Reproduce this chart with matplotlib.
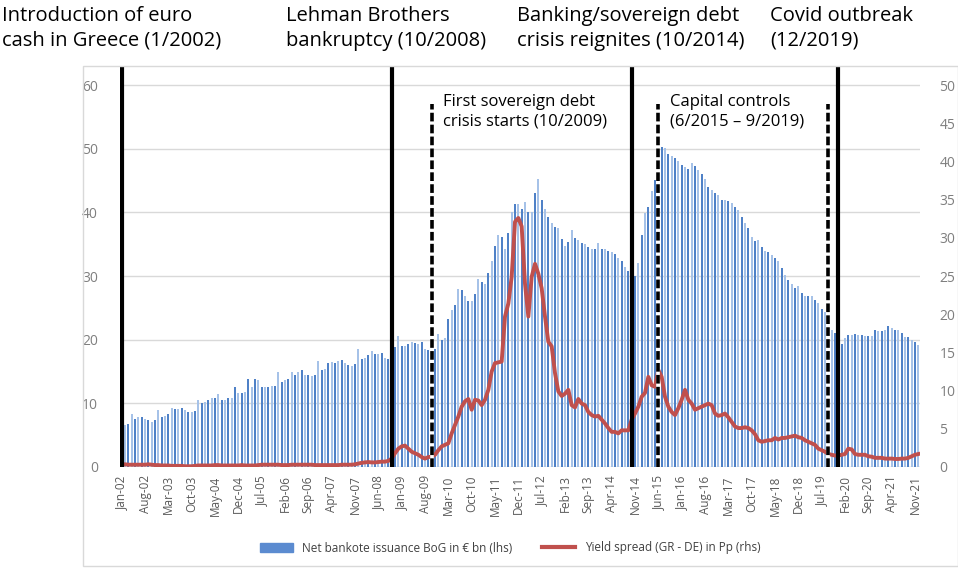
import numpy as np
import matplotlib.pyplot as plt
from matplotlib.lines import Line2D
from matplotlib.patches import Patch, Rectangle

plt.rcParams['font.family'] = ['Open Sans', 'DejaVu Sans']

# monthly series, Jan-2002 .. Dec-2021
month_names = ["Jan", "Feb", "Mar", "Apr", "May", "Jun",
               "Jul", "Aug", "Sep", "Oct", "Nov", "Dec"]
start_year = 2002
n_months = 240

# net banknote issuance of the Bank of Greece, EUR bn (left axis)
issuance = [
    6.1, 6.6, 6.8, 8.3, 7.6, 7.9, 7.9, 7.5, 7.4, 7.1, 7.4, 9.0,
    7.9, 8.0, 8.3, 9.3, 9.1, 9.1, 9.2, 9.0, 8.7, 8.7, 8.8, 10.6,
    10.0, 10.2, 10.5, 10.9, 10.9, 11.4, 10.5, 10.5, 10.8, 10.8, 12.5, 11.7,
    11.7, 11.8, 13.8, 12.6, 13.8, 13.6, 12.6, 12.6, 12.6, 12.7, 12.7, 14.9,
    13.4, 13.7, 13.9, 14.9, 14.5, 14.9, 15.2, 14.4, 14.5, 14.3, 14.5, 16.7,
    15.3, 15.4, 16.4, 16.5, 16.3, 16.7, 16.8, 16.3, 16.1, 15.8, 16.2, 18.6,
    16.9, 17.1, 17.6, 18.2, 17.8, 17.8, 17.9, 17.2, 16.9, 17.5, 18.9, 20.6,
    19.0, 19.0, 19.3, 19.6, 19.5, 19.4, 19.6, 18.6, 18.4, 18.2, 18.5, 20.9,
    19.9, 20.2, 23.2, 24.6, 25.4, 27.9, 27.8, 26.8, 26.1, 26.1, 27.2, 29.5,
    29.0, 28.8, 30.5, 32.3, 34.7, 36.5, 36.2, 34.3, 36.8, 40.1, 41.3, 41.3,
    40.5, 41.6, 40.1, 40.1, 43.1, 45.2, 41.9, 40.6, 39.3, 38.4, 37.7, 37.6,
    35.8, 34.7, 35.4, 37.2, 35.9, 35.7, 35.2, 35.0, 34.5, 34.3, 34.3, 35.2,
    34.3, 34.2, 34.0, 33.8, 33.5, 32.9, 32.3, 31.5, 30.8, 30.5, 30.0, 32.0,
    36.5, 39.9, 40.9, 43.4, 45.1, 47.4, 50.2, 50.1, 49.2, 48.8, 48.5, 48.1,
    47.4, 47.2, 46.8, 47.7, 47.3, 46.6, 46.1, 45.2, 44.0, 43.5, 43.0, 42.8,
    42.0, 42.0, 41.8, 41.5, 40.9, 40.3, 39.3, 38.4, 37.6, 36.2, 35.5, 35.7,
    34.6, 34.0, 33.8, 33.3, 32.8, 32.3, 31.2, 30.2, 29.4, 28.7, 28.2, 28.4,
    27.3, 26.8, 26.8, 26.8, 26.3, 25.8, 24.9, 24.4, 22.5, 21.5, 21.0, 20.0,
    19.4, 20.2, 20.7, 20.7, 20.9, 20.8, 20.7, 20.6, 20.6, 20.6, 21.5, 21.4,
    21.3, 21.6, 22.1, 21.9, 21.6, 21.5, 21.0, 20.5, 20.4, 19.9, 19.7, 19.2,
]

# 10y yield spread Greece - Germany, percentage points (right axis)
spread = [
    0.35, 0.35, 0.3, 0.3, 0.3, 0.3, 0.3, 0.3, 0.35, 0.3, 0.25, 0.25,
    0.2, 0.2, 0.2, 0.15, 0.15, 0.15, 0.15, 0.1, 0.1, 0.1, 0.15, 0.2,
    0.2, 0.2, 0.2, 0.2, 0.25, 0.25, 0.2, 0.2, 0.2, 0.2, 0.2, 0.2,
    0.25, 0.2, 0.2, 0.2, 0.2, 0.25, 0.3, 0.3, 0.3, 0.3, 0.3, 0.3,
    0.25, 0.25, 0.25, 0.3, 0.3, 0.3, 0.3, 0.3, 0.3, 0.3, 0.25, 0.25,
    0.25, 0.25, 0.25, 0.25, 0.25, 0.25, 0.3, 0.3, 0.3, 0.3, 0.35, 0.45,
    0.55, 0.6, 0.65, 0.6, 0.6, 0.65, 0.7, 0.7, 0.8, 1.1, 1.8, 2.4,
    2.7, 2.8, 2.4, 2.0, 1.8, 1.6, 1.3, 1.1, 1.3, 1.35, 1.6, 2.2,
    2.7, 2.9, 3.1, 4.4, 5.5, 6.6, 7.9, 8.6, 8.9, 7.5, 8.8, 8.7,
    8.1, 8.8, 10.1, 12.5, 13.6, 13.7, 13.8, 19.7, 21.4, 24.9, 32.1, 32.6,
    31.5, 24.0, 19.7, 24.9, 26.6, 25.3, 23.4, 19.7, 16.4, 15.8, 12.3, 9.9,
    9.3, 9.6, 10.1, 8.1, 7.8, 8.9, 8.3, 8.1, 7.2, 6.8, 6.6, 6.7,
    6.2, 5.7, 5.1, 4.6, 4.6, 4.4, 4.8, 4.8, 4.8, 6.2, 7.0, 7.9,
    9.2, 9.7, 11.8, 10.7, 10.5, 12.7, 11.8, 9.2, 7.9, 7.2, 6.8, 7.7,
    8.8, 10.1, 8.8, 8.3, 7.5, 7.7, 7.9, 8.1, 8.3, 8.1, 7.0, 6.7,
    6.8, 7.0, 6.5, 5.9, 5.3, 5.1, 5.1, 5.2, 5.1, 4.8, 4.3, 3.5,
    3.3, 3.4, 3.5, 3.5, 3.8, 3.6, 3.8, 3.8, 3.9, 4.0, 4.1, 3.9,
    3.8, 3.5, 3.3, 3.1, 2.9, 2.4, 2.2, 2.0, 1.7, 1.6, 1.5, 1.5,
    1.6, 1.7, 2.4, 2.3, 1.7, 1.6, 1.6, 1.6, 1.4, 1.35, 1.2, 1.2,
    1.2, 1.1, 1.1, 1.1, 1.05, 1.05, 1.1, 1.1, 1.2, 1.4, 1.6, 1.7,
]

# events as month index since Jan-2002
solid_events = [0, 81, 153, 215]
dashed_events = [93, 161, 212]

top_notes = [
    (2, "Introduction of euro\ncash in Greece (1/2002)"),
    (286, "Lehman Brothers\nbankruptcy (10/2008)"),
    (517, "Banking/sovereign debt\ncrisis reignites (10/2014)"),
    (770, "Covid outbreak\n(12/2019)"),
]
inner_notes = [
    (93, "First sovereign debt\ncrisis starts (10/2009)"),
    (161, "Capital controls\n(6/2015 \u2013 9/2019)"),
]

W, H = 958, 569
fig = plt.figure(figsize=(W / 100, H / 100), dpi=100)

# light frame around the chart area
fig.add_artist(Rectangle((83 / W, 1 - 566 / H), (W - 83) / W, 500 / H,
                         transform=fig.transFigure, fill=False,
                         edgecolor='#d9d9d9', lw=1))

ax = fig.add_axes([120 / W, 1 - 467 / H, 800 / W, (467 - 66) / H])
x = np.arange(n_months)
# thin bars render in two tones, alternate them
bar_colors = ['#4f81c7' if i % 2 == 0 else '#a6c2e8' for i in x]
ax.bar(x, issuance, width=0.6, color=bar_colors, zorder=2)
ax.set_xlim(-0.5, n_months - 0.5)
ax.set_ylim(0, 63)
ax.set_yticks(range(0, 61, 10))
ax.grid(axis='y', color='#d9d9d9', lw=1)
ax.set_axisbelow(True)
for s in ax.spines.values():
    s.set_visible(False)
ax.axhline(0, color='#d0d0d0', lw=1, zorder=1)
ax.tick_params(axis='y', length=0, pad=16, labelcolor='#7f7f7f', labelsize=10)

tick_idx = list(range(0, n_months, 7))
tick_lab = [f"{month_names[i % 12]}-{(start_year + i // 12) % 100:02d}" for i in tick_idx]
ax.set_xticks(tick_idx)
ax.set_xticklabels(tick_lab, rotation=90, fontsize=8.5, color='#595959')
ax.tick_params(axis='x', length=0, pad=6)

ax2 = ax.twinx()
ax2.plot(x, spread, color='#c0504d', lw=2.8, zorder=3)
ax2.set_ylim(0, 63 / 1.2)
ax2.set_yticks(range(0, 51, 5))
for s in ax2.spines.values():
    s.set_visible(False)
ax2.tick_params(axis='y', length=0, pad=14, labelcolor='#7f7f7f', labelsize=10)

for e in solid_events:
    ax2.axvline(e, color='black', lw=3, zorder=5)
for e in dashed_events:
    ax2.vlines(e, 0, 57 / 1.2, color='white', lw=2.6, zorder=5)
    ax2.vlines(e, 0, 57 / 1.2, color='black', lw=2.6, zorder=6,
               linestyles=(0, (2.4, 0.9)))

for px, txt in top_notes:
    fig.text(px / W, 1 - 6 / H, txt, ha='left', va='top', fontsize=14.5,
             linespacing=1.32, color='black')
for e, txt in inner_notes:
    ax2.text(e + 3.5, 48.8, txt, ha='left', va='top', fontsize=12,
             linespacing=1.25, color='black', zorder=7)

handles = [Patch(color='#5b8bd0'),
           Line2D([0], [0], color='#c0504d', lw=3)]
fig.legend(handles,
           ["Net bankote issuance BoG in \u20ac bn (lhs)",
            "Yield spread (GR - DE) in Pp (rhs)"],
           loc='center', bbox_to_anchor=(510 / W, 1 - 548 / H), ncol=2,
           frameon=False, fontsize=8.5, handlelength=2.8, handleheight=0.7,
           columnspacing=2.5, labelcolor='#404040')

fig.savefig("out.png", dpi=100)
